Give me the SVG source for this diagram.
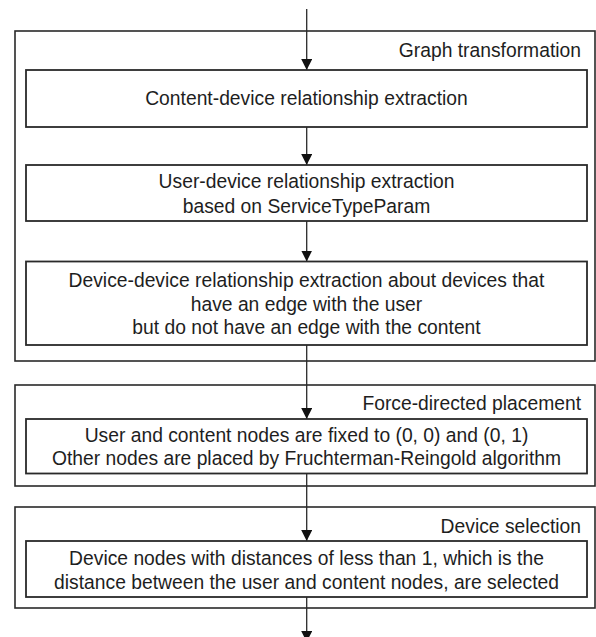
<svg xmlns="http://www.w3.org/2000/svg" width="596" height="637" viewBox="0 0 596 637">
<style>
.outer{fill:none;stroke:#2a2a2a;stroke-width:1.6}
.inner{fill:#fff;stroke:#2a2a2a;stroke-width:1.8}
.t{font-family:"Liberation Sans",Arial,sans-serif;font-size:19.3px;fill:#1e1e1e;text-anchor:middle}
.lbl{font-family:"Liberation Sans",Arial,sans-serif;font-size:19.3px;fill:#1e1e1e;text-anchor:end}
.c{stroke:#2a2a2a;stroke-width:1.3;fill:none;marker-end:url(#ah)}
</style>
<defs>
<marker id="ah" viewBox="0 0 11 11" refX="11" refY="5.5" markerWidth="11" markerHeight="11" markerUnits="userSpaceOnUse" orient="auto">
<path d="M0,0 L11,5.5 L0,11 z" fill="#111"/>
</marker>
</defs>
<rect width="596" height="637" fill="#fff"/>
<g id="graph-transformation">
<rect class="outer" x="15" y="31" width="580" height="330"/>
<text class="lbl" x="581" y="57">Graph transformation</text>
</g>
<g id="force-directed-placement">
<rect class="outer" x="15" y="385" width="580" height="101"/>
<text class="lbl" x="581" y="410">Force-directed placement</text>
</g>
<g id="device-selection">
<rect class="outer" x="15" y="507" width="580" height="101"/>
<text class="lbl" x="581" y="533">Device selection</text>
</g>
<g id="connectors">
<line class="c" x1="306.7" y1="9" x2="306.7" y2="70"/>
<line class="c" x1="306.7" y1="127" x2="306.7" y2="165"/>
<line class="c" x1="306.7" y1="221" x2="306.7" y2="261.5"/>
<line class="c" x1="306.7" y1="345" x2="306.7" y2="419"/>
<line class="c" x1="306.7" y1="473.5" x2="306.7" y2="541"/>
<line class="c" x1="306.7" y1="597" x2="306.7" y2="642"/>
</g>
<g id="content-device">
<rect class="inner" x="26" y="70" width="561" height="57"/>
<text class="t" x="306.5" y="105">Content-device relationship extraction</text>
</g>
<g id="user-device">
<rect class="inner" x="26" y="165" width="561" height="56"/>
<text class="t" x="306.5" y="188">User-device relationship extraction</text>
<text class="t" x="306.5" y="212.5">based on ServiceTypeParam</text>
</g>
<g id="device-device">
<rect class="inner" x="26" y="261.5" width="561" height="83.5"/>
<text class="t" x="306.5" y="287">Device-device relationship extraction about devices that</text>
<text class="t" x="306.5" y="310.5">have an edge with the user</text>
<text class="t" x="306.5" y="334">but do not have an edge with the content</text>
</g>
<g id="placement">
<rect class="inner" x="26" y="419" width="561" height="54.5"/>
<text class="t" x="306.5" y="441.5">User and content nodes are fixed to (0, 0) and (0, 1)</text>
<text class="t" x="306.5" y="464.5">Other nodes are placed by Fruchterman-Reingold  algorithm</text>
</g>
<g id="selection">
<rect class="inner" x="26" y="541" width="561" height="56"/>
<text class="t" x="306.5" y="565">Device nodes with distances of less than 1, which is the</text>
<text class="t" x="306.5" y="588.5">distance between the user and content nodes, are selected</text>
</g>
</svg>
